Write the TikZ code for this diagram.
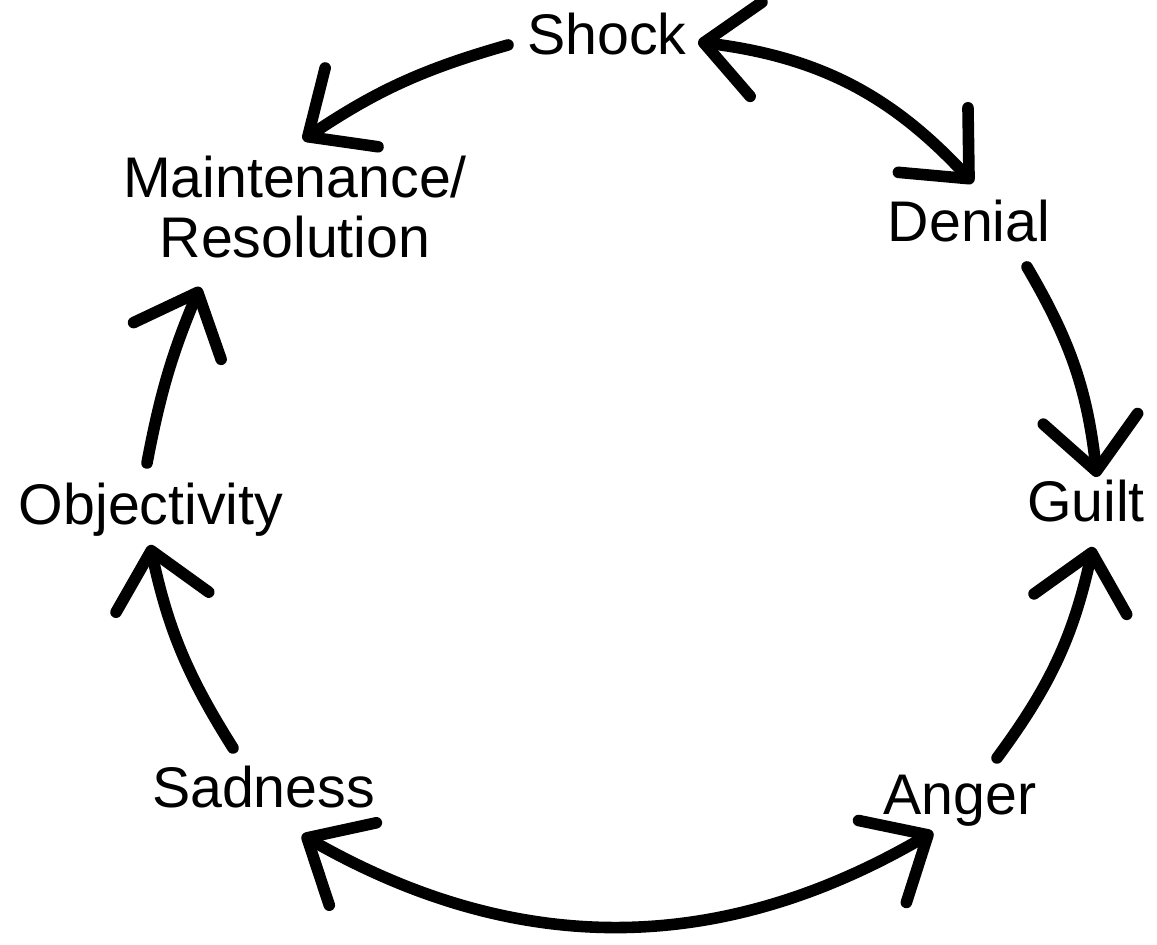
\documentclass[tikz,border=0pt]{standalone}
\usepackage{fontspec}
\setmainfont{Liberation Sans}
\usetikzlibrary{arrows.meta}
\begin{document}
\begin{tikzpicture}[>={Straight Barb[length=15pt,width=27pt,round]},
  stage/.style={inner sep=0pt, anchor=base, font=\fontsize{16.3}{17.3}\selectfont},
  cyc/.style={line width=3.3pt, line cap=round}]
\useasboundingbox (0,0) rectangle (11.57,9.45);
\node[stage] (shock) at (6.07,8.90) {Shock};
\node[stage] (denial) at (9.69,7.03) {Denial};
\node[stage] (guilt) at (10.86,4.23) {Guilt};
\node[stage] (anger) at (9.60,1.30) {Anger};
\node[stage] (sadness) at (2.635,1.37) {Sadness};
\node[stage] (objectivity) at (1.51,4.20) {Objectivity};
\node[stage, anchor=center, align=center] (maint) at (2.95,7.38) {Maintenance/\\Resolution};
\draw[cyc,->] ([shift={(-0.99,0.10)}]shock.base) to[bend right=9] ([shift={(0.08,0.67)}]maint.center);
\draw[cyc,<->] ([shift={(0.91,0.13)}]shock.base) to[bend left=20] ([shift={(0.04,0.59)}]denial.base);
\draw[cyc,->] ([shift={(0.58,-0.25)}]denial.base) to[bend left=12] ([shift={(0.11,0.45)}]guilt.base);
\draw[cyc,->] ([shift={(0.37,0.57)}]anger.base) to[bend right=12] ([shift={(0.07,-0.25)}]guilt.base);
\draw[cyc,->] ([shift={(-0.305,0.60)}]sadness.base) to[bend left=10] ([shift={(-0.01,-0.20)}]objectivity.base);
\draw[cyc,->] ([shift={(-0.04,0.62)}]objectivity.base) to[bend left=6] ([shift={(-0.95,-0.80)}]maint.center);
\draw[cyc,<->] ([shift={(0.385,-0.27)}]sadness.base) to[bend right=30] ([shift={(-0.27,-0.17)}]anger.base);
\end{tikzpicture}
\end{document}
